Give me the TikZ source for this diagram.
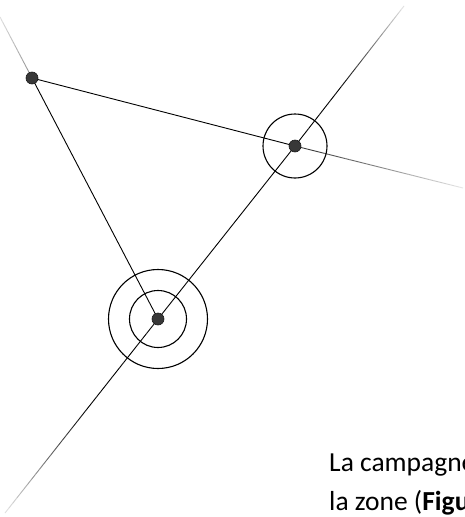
\documentclass[tikz,border=0pt]{standalone}
\usepackage{fontspec}
\setmainfont{Carlito}
\usetikzlibrary{calc}
\tikzset{
  x=1pt, y=-1pt,
  dot/.style={circle, fill=black!78, draw=black!90, line width=0.6pt, inner sep=0pt, minimum size=12pt},
  ring/.style={circle, draw=black, line width=1.1pt, inner sep=0pt},
  seg/.style={line width=0.9pt, line cap=butt},
  caption/.style={anchor=base west, inner sep=0pt, font=\fontsize{27.5}{39}\selectfont}
}
% #1 from, #2 to, #3 start darkness, #4 end darkness, #5 fraction held at start darkness
\newcommand{\fadeline}[5]{%
  \foreach \k in {0,...,39}{%
    \pgfmathsetmacro{\ta}{\k/40}%
    \pgfmathsetmacro{\tb}{(\k+1)/40}%
    \pgfmathsetmacro{\cc}{\ta<#5 ? #3 : #3+(#4-#3)*(\ta-#5)/(1-#5)}%
    \draw[seg, black!\cc] ($(#1)!\ta!(#2)$) -- ($(#1)!\tb!(#2)$);
  }}
\begin{document}
\begin{tikzpicture}
\useasboundingbox (0,0) rectangle (465,517);
\fill[white] (0,0) rectangle (465,517);
% points
\coordinate (a) at (32,78);
\coordinate (b) at (295,146);
\coordinate (c) at (158,319);
% free ends
\coordinate (ea) at (0,17);
\coordinate (eb) at (463,188);
\coordinate (ec) at (404,6);
\coordinate (ed) at (5,513);
% main segments
\draw[seg] (a) -- (b);
\draw[seg] (a) -- (c);
\draw[seg] (c) -- (b);
% fading extensions
\fadeline{a}{ea}{45}{12}{0}
\fadeline{b}{eb}{75}{8}{0.1}
\fadeline{b}{ec}{100}{8}{0.4}
\fadeline{c}{ed}{100}{8}{0.45}
% rings
\node[ring, minimum size=64pt] (rb) at (b) {};
\node[ring, minimum size=57pt] (rc1) at (c) {};
\node[ring, minimum size=99pt] (rc2) at (c) {};
% dots
\node[dot] (pa) at (a) {};
\node[dot] (pb) at (b) {};
\node[dot] (pc) at (c) {};
% text
\begin{scope}
  \clip (0,0) rectangle (465,517);
  \node[caption] (t1) at (329,471) {La campagne};
  \node[caption] (t2) at (329,510) {la zone (\textbf{Figu}};
\end{scope}
\end{tikzpicture}
\end{document}
